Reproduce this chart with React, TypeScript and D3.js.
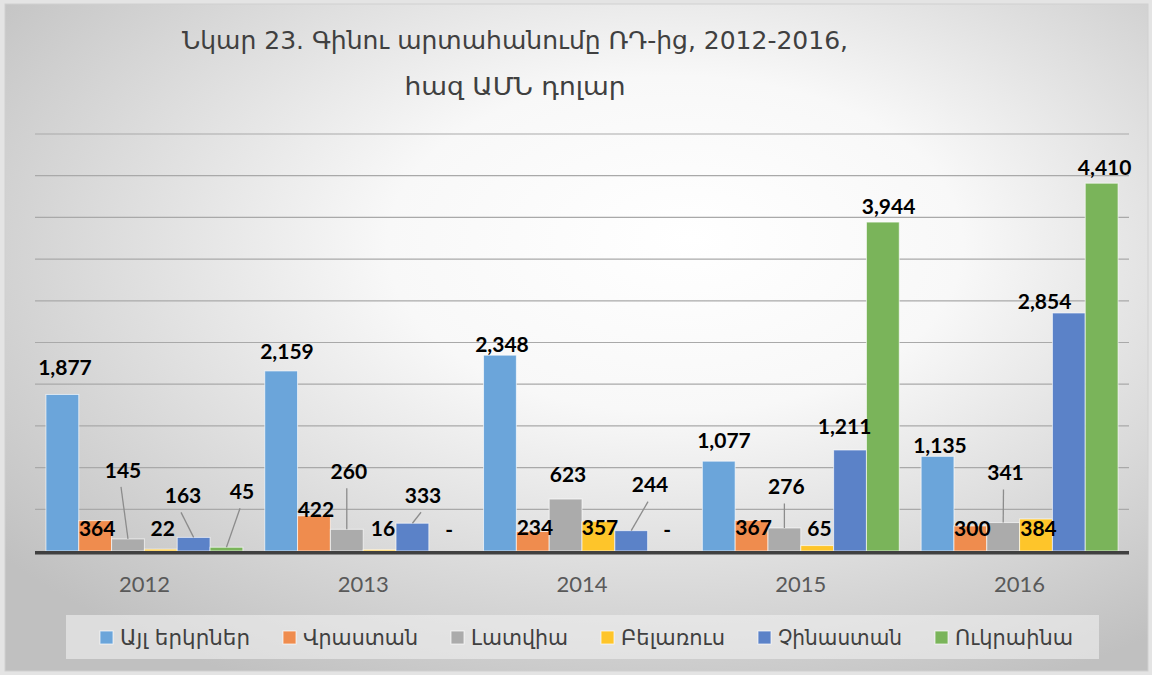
import React from 'react';
import * as d3 from 'd3';

// ---------- data ----------
const years = ['2012', '2013', '2014', '2015', '2016'];
const seriesNames = ['Այլ երկրներ', 'Վրաստան', 'Լատվիա', 'Բելառուս', 'Չինաստան', 'Ուկրաինա'];
const otherCountries = [1877, 2159, 2348, 1077, 1135];
const georgia = [364, 422, 234, 367, 300];
const latvia = [145, 260, 623, 276, 341];
const belarus = [22, 16, 357, 65, 384];
const china = [163, 333, 244, 1211, 2854];
const ukraine = [45, 0, 0, 3944, 4410];
const gridTicks = [500, 1000, 1500, 2000, 2500, 3000, 3500, 4000, 4500, 5000];
const titleLines = ['Նկար 23. Գինու արտահանումը ՌԴ-ից, 2012-2016,', 'հազ ԱՄՆ դոլար'];

const seriesValues = [otherCountries, georgia, latvia, belarus, china, ukraine];

// ---------- styles ----------
const colors = ['#6BA5DA', '#EF8C4E', '#ABABAB', '#FEC52A', '#5B82C8', '#7AB45A'];
const titleWidths = [666, 221];
const legendTextWidths = [130, 115, 97, 104, 124, 118];

// manual label nudges [dx, dy] relative to the bar's top centre (label centre)
const labelNudge: [number, number][][] = [
  [[2.6, -27], [5.8, -19.4], [2, -11], [5.2, -21], [2.4, -11]],
  [[2, 8], [2, -6], [2.2, -4], [2, 7.5], [2, 2]],
  [[-5, -69], [2, -58], [2.4, -25], [2, -41.5], [2.3, -50]],
  [[2, -21], [3.4, -21], [1.6, 6], [2.3, -17], [2.5, 9]],
  [[-10.6, -42], [10.6, -28], [18.8, -46], [-5.5, -24], [-24.3, -12]],
  [[15.6, -56], [3.8, -22], [3, -22], [5.7, -15.4], [3, -16]],
];
const leaders: boolean[][] = [
  [false, false, false, false, false],
  [false, false, false, false, false],
  [true, true, false, true, true],
  [false, false, false, false, false],
  [true, true, true, false, false],
  [true, false, false, false, false],
];

const W = 1152;
const H = 675;
const plotLeft = 35;
const plotRight = 1129;
const baseY = 551;
const topY = 134;

const fmt = d3.format(',');
const armFont = "'DejaVu Sans Condensed', 'DejaVu Sans', sans-serif";

export default function App() {
  const x0 = d3.scaleBand<string>().domain(years).range([plotLeft, plotRight]).paddingInner(0.1).paddingOuter(0.05);
  const x1 = d3
    .scaleBand<number>()
    .domain(d3.range(seriesNames.length))
    .range([0, x0.bandwidth()]);
  const y = d3.scaleLinear().domain([0, 5000]).range([baseY, topY]);

  // legend layout
  const sq = 13;
  const textGap = 20;
  const itemGap = 33;
  const itemWidths = legendTextWidths.map((w) => textGap + w);
  const totalW = d3.sum(itemWidths) + itemGap * (itemWidths.length - 1);
  const legendCx = 586.5;
  let cursor = legendCx - totalW / 2;
  const legendX = itemWidths.map((w) => {
    const v = cursor;
    cursor += w + itemGap;
    return v;
  });

  return (
    <svg
      width={W}
      height={H}
      style={{ position: 'absolute', left: 0, top: 0, display: 'block' }}
      xmlns="http://www.w3.org/2000/svg"
    >
      <defs>
        <radialGradient id="bg" cx="0.56" cy="0.38" r="0.72" fx="0.6" fy="0.35">
          <stop offset="0" stopColor="#ffffff" />
          <stop offset="0.35" stopColor="#f8f8f8" />
          <stop offset="1" stopColor="#c0c0c0" />
        </radialGradient>
      </defs>
      <rect x={0} y={0} width={W} height={H} fill="#e4e4e4" />
      <rect x={5} y={4} width={W - 9} height={H - 8} fill="url(#bg)" stroke="#d0d0d0" strokeWidth={1} />

      {/* title */}
      <g fill="#404040" fontFamily={armFont} fontSize={24} textAnchor="middle">
        <text x={515} y={49} textLength={titleWidths[0]} lengthAdjust="spacingAndGlyphs">
          {titleLines[0]}
        </text>
        <text x={515} y={95} textLength={titleWidths[1]} lengthAdjust="spacingAndGlyphs">
          {titleLines[1]}
        </text>
      </g>

      {/* gridlines */}
      <g stroke="#a9a9a9" strokeWidth={1.2}>
        {gridTicks.map((t) => (
          <line key={t} x1={plotLeft} x2={plotRight} y1={y(t)} y2={y(t)} />
        ))}
      </g>

      {/* bars */}
      {years.map((yr, gi) => (
        <g key={yr} transform={`translate(${x0(yr)},0)`}>
          {seriesValues.map((vals, si) => {
            const v = vals[gi];
            return (
              <rect
                key={si}
                x={x1(si)}
                y={y(v)}
                width={x1.bandwidth()}
                height={baseY - y(v)}
                fill={colors[si]}
                stroke="#ffffff"
                strokeOpacity={0.65}
                strokeWidth={v > 0 ? 1 : 0}
              />
            );
          })}
        </g>
      ))}

      {/* axis line */}
      <line x1={plotLeft} x2={plotRight} y1={baseY + 1.8} y2={baseY + 1.8} stroke="#404040" strokeWidth={3.6} />

      {/* x labels */}
      <g fill="#595959" fontFamily="Lato, 'Open Sans', sans-serif" fontSize={22} textAnchor="middle">
        {years.map((yr) => (
          <text key={yr} x={(x0(yr) as number) + x0.step() * 0.45} y={592}>
            {yr}
          </text>
        ))}
      </g>

      {/* leader lines + value labels */}
      {years.map((yr, gi) =>
        seriesValues.map((vals, si) => {
          const v = vals[gi];
          const bx = (x0(yr) as number) + (x1(si) as number) + x1.bandwidth() / 2;
          const by = y(v);
          const [dx, dy] = labelNudge[si][gi];
          const lx = bx + dx;
          const ly = by + dy;
          return (
            <g key={`${yr}-${si}`}>
              {leaders[si][gi] && (
                <line x1={lx - 2} y1={ly + 17} x2={bx} y2={by} stroke="#8c8c8c" strokeWidth={1.3} />
              )}
              <text
                x={lx}
                y={ly + 7.6}
                textAnchor="middle"
                fontFamily="Lato, 'Open Sans', sans-serif"
                fontWeight={700}
                fontSize={21}
                fill="#000000"
              >
                {v === 0 ? '-' : fmt(v)}
              </text>
            </g>
          );
        })
      )}

      {/* legend */}
      <rect x={66} y={615} width={1033} height={44} fill="#f0f0f0" fillOpacity={0.6} />
      {seriesNames.map((name, i) => (
        <g key={name} transform={`translate(${legendX[i]},0)`}>
          <rect x={0} y={631} width={sq} height={sq} fill={colors[i]} stroke="#ffffff" strokeOpacity={0.7} strokeWidth={1} />
          <text
            x={textGap}
            y={645}
            fill="#404040"
            fontFamily={armFont}
            fontSize={21}
            textLength={legendTextWidths[i]}
            lengthAdjust="spacingAndGlyphs"
          >
            {name}
          </text>
        </g>
      ))}
    </svg>
  );
}
